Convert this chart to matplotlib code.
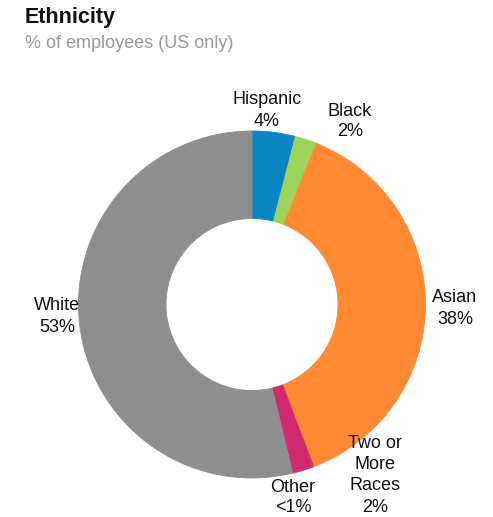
import matplotlib
matplotlib.use("Agg")
import matplotlib.pyplot as plt

plt.rcParams['font.family'] = ['Liberation Sans', 'DejaVu Sans']

# Share of US employees by ethnicity, clockwise from the top
groups = ["Hispanic", "Black", "Asian", "Two or More Races", "Other", "White"]
shares = [4, 2, 38, 2, 0.5, 53]
share_labels = ["4%", "2%", "38%", "2%", "<1%", "53%"]
colors = ["#0a86c4", "#9dd35a", "#ff8a33", "#d1286f", "#8e8e8e", "#8e8e8e"]

W, H = 493, 517
fig = plt.figure(figsize=(W / 100, H / 100), dpi=100)

cx, cy, r = 252, 304.5, 173.5
ax = fig.add_axes([(cx - r) / W, (H - cy - r) / H, 2 * r / W, 2 * r / H])
wedges, _ = ax.pie(shares, colors=colors, startangle=90, counterclock=False,
                   radius=1, wedgeprops=dict(width=1 - 86 / 173.5))
# edge in the fill colour so neighbouring slices leave no seam
for w in wedges:
    w.set_edgecolor(w.get_facecolor())
    w.set_linewidth(0.6)
ax.set_xlim(-1, 1)
ax.set_ylim(-1, 1)
ax.set_aspect("equal")
ax.axis("off")

fig.text(25 / W, 1 - 18 / H, "Ethnicity", fontsize=15.5, fontweight="bold",
         color="#111111", ha="left", va="center")
fig.text(25 / W, 1 - 43 / H, "% of employees (US only)", fontsize=13,
         color="#9a9a9a", ha="left", va="center")

# label anchor points (pixel centres of the first line) and line pitch
label_pos = {
    "Hispanic": (267, 100, 22),
    "Black": (350, 112, 20),
    "Asian": (455, 298, 22),
    "White": (57, 305, 22),
    "Two or More Races": (375, 443, 21.5),
    "Other": (293, 488, 20),
}
label_lines = {"Two or More Races": ["Two or", "More", "Races"]}

for g, s in zip(groups, share_labels):
    px, py, step = label_pos[g]
    lines = label_lines.get(g, [g]) + [s]
    for i, line in enumerate(lines):
        fig.text(px / W, 1 - (py + i * step) / H, line, fontsize=13,
                 color="#111111", ha="center", va="center")

fig.savefig("out.png", dpi=100, facecolor="white")
